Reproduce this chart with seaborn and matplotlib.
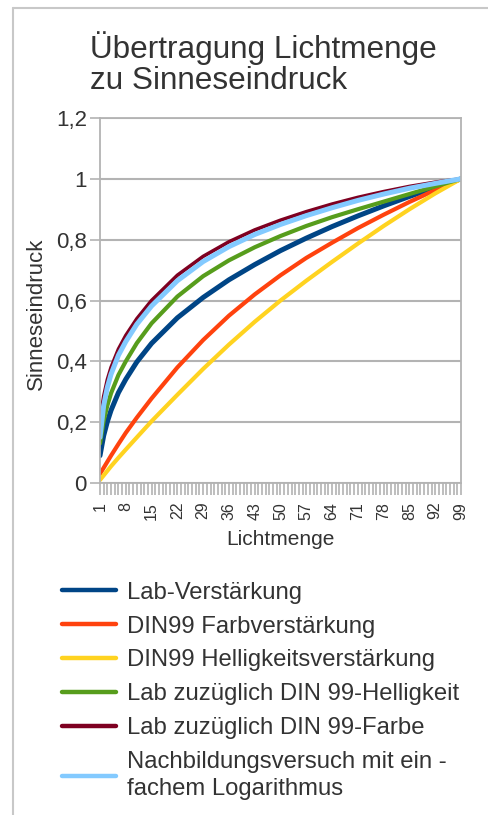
import matplotlib
matplotlib.use("Agg")
import matplotlib.pyplot as plt
import seaborn as sns
import pandas as pd
from matplotlib.lines import Line2D

# Lichtmenge (Stützstellen)
lichtmenge = [1, 2, 3, 4, 6, 8, 11, 15, 22, 29, 36, 43, 50, 57, 64, 71, 78, 85, 92, 99]

# Sinneseindruck je Kurve (aus dem Bild geschätzt)
lab = [0.09, 0.156, 0.202, 0.239, 0.297, 0.341, 0.398, 0.459, 0.543, 0.610,
       0.668, 0.718, 0.764, 0.805, 0.843, 0.878, 0.911, 0.942, 0.972, 1.0]
din99_farbe = [0.03, 0.05, 0.07, 0.09, 0.128, 0.165, 0.215, 0.278, 0.38, 0.47,
               0.55, 0.62, 0.683, 0.74, 0.79, 0.838, 0.882, 0.924, 0.963, 1.0]
din99_hell = [0.01, 0.025, 0.04, 0.055, 0.083, 0.11, 0.15, 0.203, 0.29, 0.375,
              0.455, 0.53, 0.60, 0.665, 0.727, 0.787, 0.845, 0.90, 0.952, 1.0]
lab_din_hell = [0.13, 0.205, 0.255, 0.295, 0.355, 0.40, 0.46, 0.525, 0.613, 0.68,
                0.732, 0.775, 0.812, 0.845, 0.874, 0.90, 0.925, 0.95, 0.975, 1.0]
lab_din_farbe = [0.20, 0.285, 0.34, 0.38, 0.44, 0.485, 0.54, 0.60, 0.683, 0.745,
                 0.793, 0.832, 0.864, 0.892, 0.917, 0.939, 0.958, 0.975, 0.989, 1.0]
logarithmus = [0.15, 0.255, 0.315, 0.358, 0.42, 0.465, 0.522, 0.582, 0.665, 0.728,
               0.777, 0.817, 0.85, 0.879, 0.905, 0.929, 0.95, 0.969, 0.985, 1.0]

namen = ["Lab-Verstärkung", "DIN99 Farbverstärkung", "DIN99 Helligkeitsverstärkung",
         "Lab zuzüglich DIN 99-Helligkeit", "Lab zuzüglich DIN 99-Farbe",
         "Nachbildungsversuch mit ein -\nfachem Logarithmus"]
reihen = [lab, din99_farbe, din99_hell, lab_din_hell, lab_din_farbe, logarithmus]
farben = ["#004586", "#ff420e", "#ffd320", "#579d1c", "#7e0021", "#83caff"]
breiten = [3.6, 3.0, 3.0, 3.0, 2.6, 3.6]

x_ticks = [1, 8, 15, 22, 29, 36, 43, 50, 57, 64, 71, 78, 85, 92, 99]
y_ticks = [0, 0.2, 0.4, 0.6, 0.8, 1.0, 1.2]
y_labels = ["0", "0,2", "0,4", "0,6", "0,8", "1", "1,2"]

sns.set_theme(style="white")
plt.rcParams["font.family"] = ["Liberation Sans", "DejaVu Sans"]
text_farbe = "#333333"
grau = "#b3b3b3"

fig = plt.figure(figsize=(4.89, 8.15), dpi=100)
ax = fig.add_axes([100 / 489, 1 - 483 / 815, 361 / 489, 365 / 815])

# 1. Kurven zeichnen
for name, werte, farbe, lw in zip(namen, reihen, farben, breiten):
    df = pd.DataFrame({"Lichtmenge": lichtmenge, "Sinneseindruck": werte})
    sns.lineplot(data=df, x="Lichtmenge", y="Sinneseindruck", color=farbe,
                 linewidth=lw, ax=ax, legend=False)

# 2. Achsen
ax.set_xlim(1, 99)
ax.set_ylim(0, 1.2)
ax.set_yticks(y_ticks)
ax.set_yticklabels(y_labels, fontsize=16, color=text_farbe)
ax.set_xticks(x_ticks)
ax.set_xticklabels([str(t) for t in x_ticks], rotation=90, fontsize=11.5, color=text_farbe)
ax.set_xticks(list(range(1, 100)), minor=True)
ax.tick_params(axis="x", which="both", direction="out", length=8.5, width=1.2, color=grau,
               bottom=True, pad=5)
ax.tick_params(axis="y", direction="out", length=7.5, width=1.2, color=grau, left=True, pad=2)
ax.grid(axis="y", color=grau, linewidth=1.5)
for s in ax.spines.values():
    s.set_color(grau)
    s.set_linewidth(1.3)
ax.set_xlabel("Lichtmenge", fontsize=15, color=text_farbe)
ax.xaxis.set_label_coords(0.5, -(530 - 483) / 365)
ax.set_ylabel("Sinneseindruck", fontsize=16, color=text_farbe)
ax.yaxis.set_label_coords((47 - 100) / 361, (483 - 314) / 365)

# 3. Titel
fig.text(90 / 489, 1 - 31 / 815, "Übertragung Lichtmenge\nzu Sinneseindruck",
         fontsize=22.7, color=text_farbe, va="top", ha="left", linespacing=1.05)

# 4. Legende
handles = [Line2D([0], [0], color=f, linewidth=3.2) for f in farben]
leg = fig.legend(handles, namen, loc="upper left", bbox_to_anchor=(52 / 489, 1 - 572 / 815),
                 frameon=False, fontsize=17.2, handlelength=2.3, handletextpad=0.42,
                 labelspacing=0.5, borderaxespad=0, labelcolor=text_farbe)
leg.get_texts()[-1].set_linespacing(1.3)

# 5. Rahmen
fig.add_artist(Line2D([13 / 489, 13 / 489], [0, 1 - 8 / 815], color="#c8c8c8", linewidth=1.5))
fig.add_artist(Line2D([13 / 489, 1], [1 - 8 / 815, 1 - 8 / 815], color="#c8c8c8", linewidth=1.5))

fig.savefig("out.png", dpi=100)
